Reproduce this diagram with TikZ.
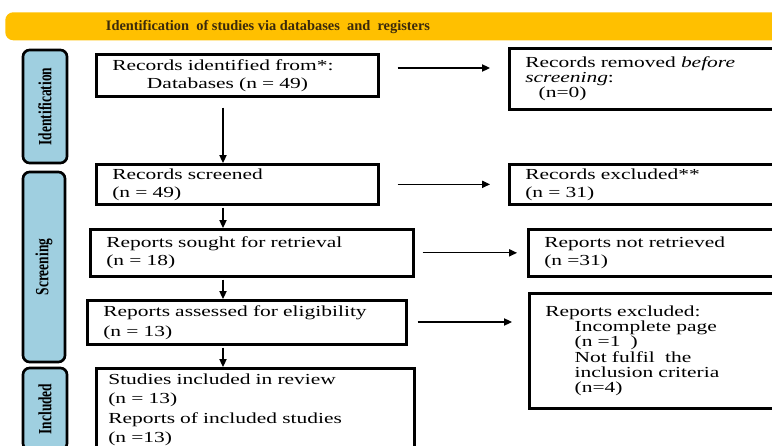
\documentclass[tikz,border=0pt]{standalone}
\usepackage{fontspec}
\setmainfont{Liberation Serif}
\newfontfamily\boxfont{Liberation Serif}[FakeStretch=1.4]
\newfontfamily\stagefont{Liberation Serif}[FakeStretch=0.72]
\usetikzlibrary{arrows.meta}
\definecolor{bannerorange}{HTML}{FFC000}
\definecolor{bannertext}{HTML}{3B2A0C}
\definecolor{stageblue}{HTML}{9FCFE0}

\begin{document}
\begin{tikzpicture}
	[x=0.75pt,y=-0.75pt,
	box/.style={draw,line width=2pt,anchor=north west,inner xsep=12pt,inner ysep=2pt,align=left,
		font=\boxfont\fontsize{11.5}{13.5}\selectfont},
	tight/.style={font=\boxfont\fontsize{11.5}{11.5}\selectfont},
	stage/.style={draw,line width=2pt,rounded corners=5pt,fill=stageblue,
		font=\stagefont\bfseries\fontsize{14}{14}\selectfont},
	arr/.style={-{Triangle[length=6pt,width=5.5pt]},line width=0.8pt}]
	\useasboundingbox (0,0) rectangle (772,446);
	\clip (0,0) rectangle (772,446);
	% title bar
	\node (banner) [fill=bannerorange,rounded corners=6pt,anchor=north west,
		minimum width=618.75pt,minimum height=21pt] at (5,12) {};
	\node (title) [text=bannertext,font=\bfseries\fontsize{10.8}{12}\selectfont] at (268,27)
		{Identification\ \ of studies via databases\ \ and\ \ registers};
	% stages
	\node (sIdent) [stage,minimum width=33pt,minimum height=84.75pt] at (45,106.5) {\rotatebox{90}{Identification}};
	\node (sScreen) [stage,minimum width=31.5pt,minimum height=142.5pt] at (44,267) {\rotatebox{90}{Screening}};
	\node (sIncl) [stage,minimum width=33pt,minimum height=61.5pt] at (45,409) {\rotatebox{90}{Included}};
	% main column
	\node (ident) [box,text width=187.5pt,minimum height=31.5pt] at (95,53)
		{Records identified from*:\\\hspace*{26pt}Databases (n = 49)};
	\node (screened) [box,text width=187.5pt,minimum height=30pt] at (95,163)
		{Records screened\\(n = 49)};
	\node (sought) [box,text width=218.25pt,minimum height=35.25pt] at (89,228)
		{Reports sought for retrieval\\(n = 18)};
	\node (assessed) [box,text width=215.25pt,minimum height=33pt,font=\boxfont\fontsize{11.5}{15}\selectfont] at (86,299)
		{Reports assessed for eligibility\\(n = 13)};
	\node (included) [box,inner xsep=9pt,text width=220.5pt,minimum height=62pt,font=\boxfont\fontsize{11.5}{14.5}\selectfont] at (95,367)
		{Studies included in review\\(n = 13)\\Reports of included studies\\(n =13)};
	% side column
	\node (removed) [box,tight,text width=193.5pt,minimum height=45.75pt] at (508,47)
		{Records removed \textit{before}\\\textit{screening}:\\\hspace*{10pt}(n=0)};
	\node (excluded) [box,text width=193.5pt,minimum height=30pt] at (508,163)
		{Records excluded**\\(n = 31)};
	\node (notret) [box,text width=178.5pt,minimum height=35.25pt] at (527,228)
		{Reports not retrieved\\(n =31)};
	\node (reportexcl) [box,tight,text width=178.5pt,minimum height=86.25pt] at (528,292)
		{Reports excluded:\\\hspace*{22pt}Incomplete page\\\hspace*{22pt}(n =1\ \ )\\
		\hspace*{22pt}Not fulfil\ \ the\\\hspace*{22pt}inclusion criteria\\\hspace*{22pt}(n=4)};
	\coordinate (spine) at (223,0);
	\draw [arr,shorten <=7.5pt] (spine |- ident.south) -- (spine |- screened.north);
	\draw [arr,shorten <=1.5pt] (spine |- screened.south) -- (spine |- sought.north);
	\draw [arr,shorten <=1.5pt] (spine |- sought.south) -- (spine |- assessed.north);
	\draw [arr,shorten <=1.5pt] (spine |- assessed.south) -- (spine |- included.north);
	\draw [arr,shorten <=13.5pt,shorten >=13.5pt] (ident.east |- 0,68) -- (removed.west |- 0,68);
	\draw [arr,shorten <=13.5pt,shorten >=13.5pt] (screened) -- (excluded);
	\draw [arr,shorten <=6pt,shorten >=7.5pt] (sought) -- (notret);
	\draw [arr,shorten <=7.5pt,shorten >=12pt] (assessed.east |- 0,322) -- (reportexcl.west |- 0,322);
\end{tikzpicture}
\end{document}
